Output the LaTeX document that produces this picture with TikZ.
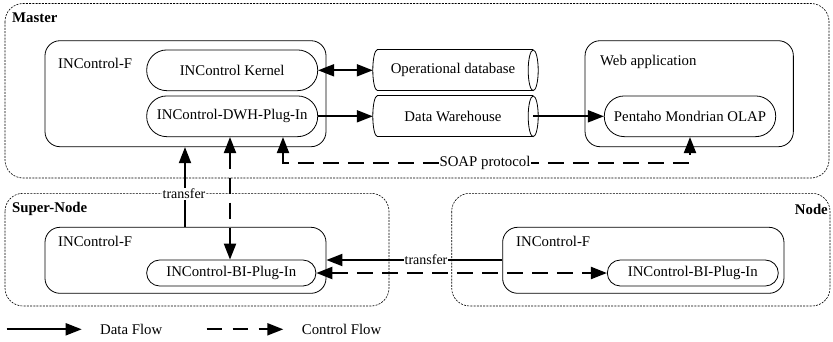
\documentclass[tikz,border=0pt]{standalone}
\usepackage{fontspec}
\setmainfont{Liberation Serif}
\usetikzlibrary{arrows.meta,calc}
\begin{document}
\begin{tikzpicture}[x=1pt,y=-1pt,
  font=\fontsize{14.8}{17}\selectfont,
  tip/.tip={Triangle[length=16pt,width=12pt]},
  group/.style={draw,dash pattern=on 2pt off 1.2pt,line width=0.6pt,rounded corners=18pt},
  container/.style={draw,line width=0.8pt,rounded corners=15pt},
  pill/.style={draw,line width=0.8pt,inner sep=0pt},
  lbl/.style={inner sep=0pt,anchor=west},
  grouplbl/.style={inner sep=0pt,font=\fontsize{14.8}{17}\selectfont\bfseries},
  dataflow/.style={line width=1.9pt,-tip},
  ctrlflow/.style={line width=2.1pt,dash pattern=on 16pt off 9pt,-tip},
  cyl/.style={inner sep=0pt},
  tlabel/.style={fill=white,inner sep=1pt,font=\fontsize{14}{16}\selectfont}
]
\useasboundingbox (0,0) rectangle (833,341);

% ---------- group boxes ----------
\draw[group] (5,3.5) rectangle (829,178);
\node[grouplbl,anchor=west] (mlbl) at (12,18) {Master};
\draw[group] (5,193.3) rectangle (389,306);
\node[grouplbl,anchor=west] (slbl) at (12,209) {Super-Node};
\draw[group] (451.7,193.3) rectangle (830,306);
\node[grouplbl,anchor=east] (nlbl) at (828,209) {Node};

% ---------- Master ----------
\node[container,minimum width=281pt,minimum height=106pt] (minc) at (185.5,93.7) {};
\node[lbl] (mincl) at (58,63) {INControl-F};
\node[pill,rounded corners=20pt,minimum width=171pt,minimum height=40.7pt] (kernel) at (232.2,70.3) {INControl Kernel};
\node[pill,rounded corners=20pt,minimum width=171pt,minimum height=40.7pt] (dwh) at (232.2,116.3) {INControl-DWH-Plug-In};

% cylinders
\node[cyl,minimum width=160pt,minimum height=40.7pt] (opdb) at (453,70.3) {Operational database};
\node[cyl,minimum width=160pt,minimum height=40.7pt] (dw) at (453,116.3) {Data Warehouse};
\foreach \c in {opdb,dw}{
  \draw[line width=0.8pt] ($(\c.north west)+(4.5,0)$) -- ($(\c.north east)$)
     ($(\c.south west)+(4.5,0)$) -- ($(\c.south east)$);
  \draw[line width=0.8pt] ($(\c.north west)+(4.5,0)$) arc[start angle=-90,end angle=-270,x radius=4.5pt,y radius=-20.35pt];
  \draw[line width=0.8pt] (\c.east) ellipse[x radius=5pt,y radius=20.35pt];
}

\node[container,minimum width=208.3pt,minimum height=106pt] (web) at (689.2,93.7) {};
\node[lbl] (webl) at (600,61.7) {Web application};
\node[pill,rounded corners=20pt,minimum width=171.4pt,minimum height=40.7pt] (pent) at (690,116.3) {Pentaho Mondrian OLAP};

% ---------- Super-Node ----------
\node[container,minimum width=281pt,minimum height=66pt] (sinc) at (185.5,260.3) {};
\node[lbl] (sincl) at (58,241.7) {INControl-F};
\node[pill,rounded corners=13pt,minimum width=169.3pt,minimum height=26pt] (sbi) at (231.3,273) {INControl-BI-Plug-In};

% ---------- Node ----------
\node[container,minimum width=281.3pt,minimum height=66pt] (ninc) at (643.3,260.3) {};
\node[lbl] (nincl) at (516,241.7) {INControl-F};
\node[pill,rounded corners=13pt,minimum width=171pt,minimum height=26pt] (nbi) at (692.8,273) {INControl-BI-Plug-In};

% ---------- connectors ----------
\draw[dataflow,tip-tip] (kernel.east) -- (opdb.west);
\draw[dataflow] (dwh.east) -- (dw.west);
\draw[dataflow] (dw.east) -- (pent.west);

\coordinate (soapL) at (283,162.7);
\coordinate (soapR) at (pent.south |- soapL);
\draw[ctrlflow,tip-tip] (soapL |- dwh.south) -- (soapL) -- (soapR) -- (pent.south);
\node[tlabel,font=\fontsize{14.8}{17}\selectfont] (soap) at (485,162.7) {SOAP protocol};

\coordinate (tx) at (185,0);
\draw[dataflow] (tx |- sinc.north) -- (tx |- minc.south);
\node[tlabel] (tr1) at (184,194) {transfer};

\coordinate (cx) at (230,0);
\draw[ctrlflow,tip-tip] (cx |- dwh.south) -- (cx |- sbi.north);

\coordinate (ty) at (0,260);
\draw[dataflow] (ninc.west |- ty) -- (sinc.east |- ty);
\node[tlabel] (tr2) at (426,260) {transfer};

\draw[ctrlflow,tip-tip] (sbi.east) -- (nbi.west);

% ---------- legend ----------
\coordinate (la) at (6.7,329.3);
\coordinate (lb) at (81.7,329.3);
\draw[dataflow] (la) -- (lb);
\node[lbl] (ldf) at (100,329.3) {Data Flow};
\coordinate (lc) at (206.7,329.3);
\coordinate (ld) at (283.3,329.3);
\draw[ctrlflow,dash pattern=on 15pt off 11pt] (lc) -- (ld);
\node[lbl] (lcf) at (301.7,329.3) {Control Flow};
\end{tikzpicture}
\end{document}
